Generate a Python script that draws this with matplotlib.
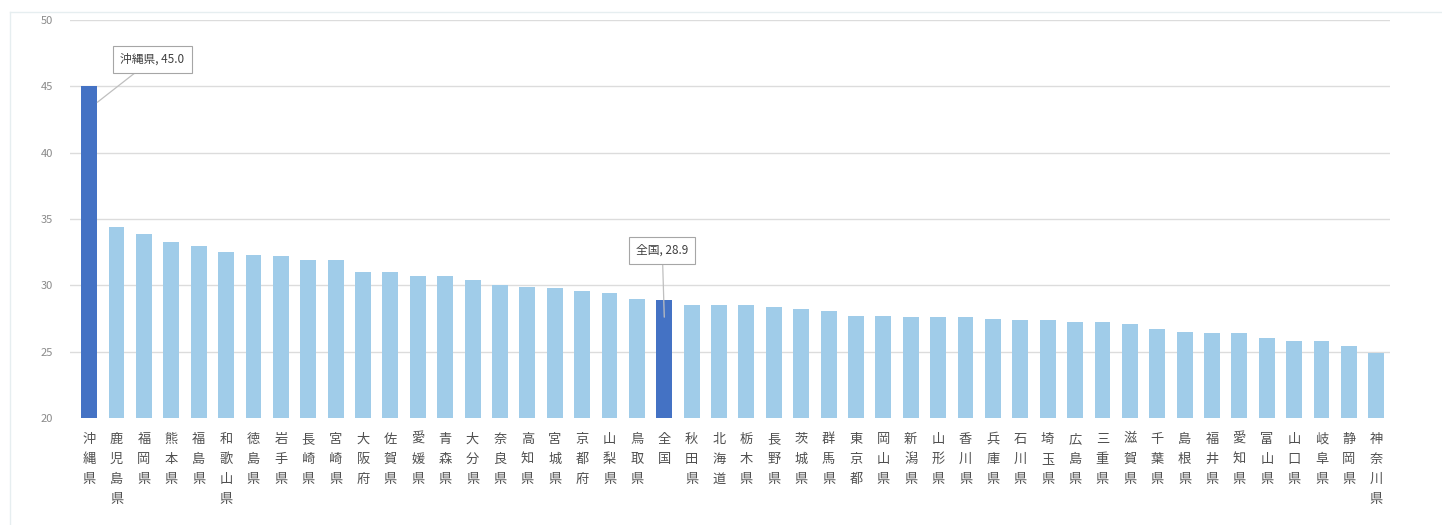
import matplotlib
matplotlib.use("Agg")
import matplotlib.pyplot as plt
from matplotlib.lines import Line2D

plt.rcParams["font.family"] = ["Noto Sans CJK JP", "DejaVu Sans"]

prefectures = [
    "沖縄県", "鹿児島県", "福岡県", "熊本県", "福島県", "和歌山県", "徳島県", "岩手県",
    "長崎県", "宮崎県", "大阪府", "佐賀県", "愛媛県", "青森県", "大分県", "奈良県",
    "高知県", "宮城県", "京都府", "山梨県", "鳥取県", "全国", "秋田県", "北海道",
    "栃木県", "長野県", "茨城県", "群馬県", "東京都", "岡山県", "新潟県", "山形県",
    "香川県", "兵庫県", "石川県", "埼玉県", "広島県", "三重県", "滋賀県", "千葉県",
    "島根県", "福井県", "愛知県", "富山県", "山口県", "岐阜県", "静岡県", "神奈川県",
]
values = [
    45.0, 34.4, 33.9, 33.3, 33.0, 32.5, 32.3, 32.2,
    31.9, 31.9, 31.0, 31.0, 30.7, 30.7, 30.4, 30.0,
    29.9, 29.8, 29.6, 29.4, 29.0, 28.9, 28.5, 28.5,
    28.5, 28.4, 28.2, 28.1, 27.7, 27.7, 27.6, 27.6,
    27.6, 27.5, 27.4, 27.4, 27.2, 27.2, 27.1, 26.7,
    26.5, 26.4, 26.4, 26.0, 25.8, 25.8, 25.4, 24.9,
]
highlight = ["沖縄県", "全国"]
y_ticks = [20, 25, 30, 35, 40, 45, 50]

DARK = "#4472C4"
LIGHT = "#A0CCE9"

fig = plt.figure(figsize=(14.42, 5.25), dpi=100)
ax = fig.add_axes([70 / 1442, 107 / 525, 1320 / 1442, 398 / 525])

x = list(range(len(prefectures)))
colors = [DARK if p in highlight else LIGHT for p in prefectures]
ax.bar(x, [v - 20 for v in values], bottom=20, width=0.58, color=colors, zorder=2)

ax.set_xlim(-0.7, len(prefectures) - 0.5)
ax.set_ylim(20, 50)
ax.set_yticks(y_ticks)
ax.set_yticklabels([str(t) for t in y_ticks])
for t in y_ticks[1:]:
    ax.axhline(t, color="#dcdcdc", linewidth=1.0, zorder=1)

for side in ["top", "right", "left", "bottom"]:
    ax.spines[side].set_visible(False)
ax.tick_params(axis="y", length=0, pad=12, labelsize=8, labelcolor="#8a8a8a")
ax.tick_params(axis="x", length=0)
ax.set_xticks([])

# vertical, one character per line
for i, name in enumerate(prefectures):
    ax.text(i, 18.9, "\n".join(name), ha="center", va="top", fontsize=9.5,
            color="#505050", linespacing=1.72)

# callouts for Okinawa and the national figure
for name, offset in [("沖縄県", (55, 43)), ("全国", (-2, 67))]:
    i = prefectures.index(name)
    v = values[i]
    xy = (i + 0.3, v - 1.2) if i == 0 else (i, v - 1.3)
    ax.annotate(
        f"{name}, {v:.1f}", xy=xy, xytext=offset, textcoords="offset pixels",
        ha="center", va="center", fontsize=8.5, color="#404040",
        bbox=dict(boxstyle="square,pad=0.6", fc="white", ec="#a6a6a6", lw=0.8),
        arrowprops=dict(arrowstyle="-", color="#bfbfbf", lw=0.9,
                        shrinkA=0, shrinkB=0),
        zorder=5,
    )

# faint frame around the chart area
fig.add_artist(Line2D([10 / 1442, 10 / 1442], [0, 513 / 525],
                      transform=fig.transFigure, color="#e6eef0", lw=1.0))
fig.add_artist(Line2D([10 / 1442, 1], [513 / 525, 513 / 525],
                      transform=fig.transFigure, color="#e6eef0", lw=1.0))

fig.savefig("out.png", dpi=100, facecolor="white")
